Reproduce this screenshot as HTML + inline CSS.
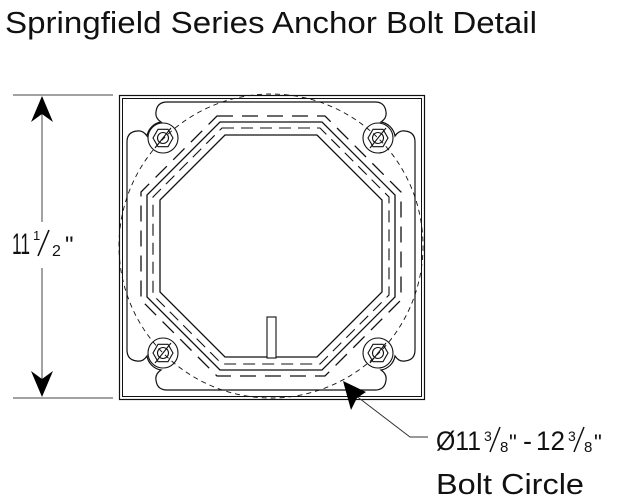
<!DOCTYPE html>
<html><head><meta charset="utf-8"><style>
html,body{margin:0;padding:0;background:#fff;}
svg{display:block;font-family:"Liberation Sans",sans-serif;}
</style></head><body>
<svg width="642" height="504" viewBox="0 0 642 504" xmlns="http://www.w3.org/2000/svg">
<text x="5" y="33" font-size="31" textLength="532" lengthAdjust="spacingAndGlyphs" fill="#111">Springfield Series Anchor Bolt Detail</text>

<!-- dimension -->
<g stroke="#444" stroke-width="1" fill="none">
<line x1="13" y1="95" x2="113" y2="95"/>
<line x1="13" y1="398" x2="113" y2="398"/>
<line x1="42" y1="110" x2="42" y2="222"/>
<line x1="42" y1="268" x2="42" y2="385"/>
</g>
<path d="M42 96 L53 122 L42 114 L31 122 Z" fill="#000"/>
<path d="M42 397 L53 371 L42 379 L31 371 Z" fill="#000"/>
<text x="12" y="254" font-size="30" fill="#111" textLength="18" lengthAdjust="spacingAndGlyphs">11</text>
<text x="33" y="240" font-size="13" fill="#111">1</text>
<line x1="38" y1="256" x2="49" y2="230" stroke="#111" stroke-width="1.6"/>
<text x="52" y="256" font-size="16" fill="#111">2</text>
<text x="65" y="253" font-size="24" fill="#111">"</text>

<!-- squares -->
<rect x="119.5" y="95.5" width="305" height="304" fill="none" stroke="#111" stroke-width="1.2"/>
<rect x="122.5" y="98.5" width="299" height="298" fill="none" stroke="#111" stroke-width="1"/>

<g transform="translate(271,246)" fill="none" stroke="#111">
<circle r="152" stroke-dasharray="5,4" stroke-width="0.9"/>
<g stroke-width="1.2">
<path id="q" d="M0,-144 L-104,-144 Q-114,-144 -115,-134 Q-116,-128 -110,-124 A17 17 0 0 0 -124,-110 Q-128,-116 -134,-115 Q-144,-114 -144,-104 L-144,0"/>
<use href="#q" transform="scale(-1,1)"/>
<use href="#q" transform="scale(1,-1)"/>
<use href="#q" transform="scale(-1,-1)"/>
</g>
<polygon points="-51,-124 51,-124 124,-51 124,51 51,124 -51,124 -124,51 -124,-51" stroke-width="1.3"/>
<polygon points="-46,-111 46,-111 111,-46 111,46 46,111 -46,111 -111,46 -111,-46" stroke-width="1.3"/>
<polygon points="-49,-118 49,-118 118,-49 118,49 49,118 -49,118 -118,49 -118,-49" stroke-width="1.1" stroke-dasharray="12,7"/>
<polygon points="-54,-130 54,-130 130,-54 130,54 54,130 -54,130 -130,54 -130,-54" stroke-width="1.3" stroke-dasharray="16,9"/>
<g id="b" transform="translate(-108,-108)" stroke-width="1.1">
<circle r="15"/>
<polygon points="10,0 5,8.7 -5,8.7 -10,0 -5,-8.7 5,-8.7"/>
<circle r="5.5"/>
<line x1="-8" y1="10" x2="8" y2="-10"/>
</g>
<use href="#b" transform="translate(215,0)"/>
<use href="#b" transform="translate(0,215)"/>
<use href="#b" transform="translate(215,215)"/>
<rect x="-4" y="71" width="9" height="41" stroke-width="1.1" fill="#fff"/>
</g>

<!-- leader -->
<polyline points="355,395 410,437 428,437" fill="none" stroke="#333" stroke-width="1"/>
<path d="M343 381 L366 392 L357 398 L351 410 Z" fill="#000"/>
<g fill="#111">
<text x="436" y="450" font-size="27" textLength="45" lengthAdjust="spacingAndGlyphs">Ø11</text>
<text x="484" y="441" font-size="14">3</text>
<line x1="490" y1="452" x2="500" y2="427" stroke="#111" stroke-width="1.5"/>
<text x="500" y="452" font-size="15">8</text>
<text x="509" y="450" font-size="22">"</text>
<text x="523" y="450" font-size="27">-</text>
<text x="536" y="450" font-size="27" textLength="29" lengthAdjust="spacingAndGlyphs">12</text>
<text x="568" y="441" font-size="14">3</text>
<line x1="574" y1="452" x2="584" y2="427" stroke="#111" stroke-width="1.5"/>
<text x="584" y="452" font-size="15">8</text>
<text x="594" y="450" font-size="22">"</text>
<text x="436" y="494" font-size="29" textLength="148" lengthAdjust="spacingAndGlyphs">Bolt Circle</text>
</g>
</svg>
</body></html>
